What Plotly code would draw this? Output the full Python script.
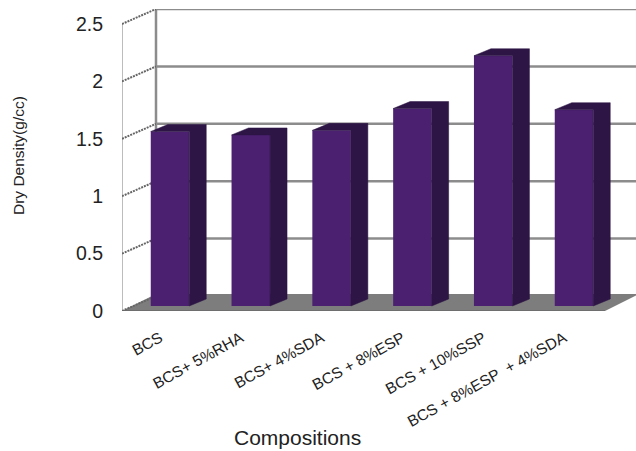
import plotly.graph_objects as go

# Chart content
categories = ["BCS", "BCS+ 5%RHA", "BCS+ 4%SDA", "BCS + 8%ESP", "BCS + 10%SSP", "BCS + 8%ESP  + 4%SDA"]
dry_density = [1.52, 1.49, 1.53, 1.72, 2.18, 1.71]
y_ticks = [0, 0.5, 1, 1.5, 2, 2.5]
y_tick_labels = ["0", "0.5", "1", "1.5", "2", "2.5"]

# Canvas and oblique-projection settings, in pixels
WIDTH, HEIGHT = 636, 451
LEFT, BOTTOM_PX, TOP_PX = 122, 311, 9
PX_PER_UNIT = 114.8
PX_PER_CAT = 80.8
FIRST_CAT_PX = 170
DEPTH_X, DEPTH_Y = 34, 15
BAR_SHIFT_Y = 5
BAR_DEPTH_X, BAR_DEPTH_Y = 17, 7
BAR_WIDTH_PX = 38.5
LABEL_SHIFT_PX = 10

x_min = (LEFT - FIRST_CAT_PX) / PX_PER_CAT
x_max = (WIDTH - FIRST_CAT_PX) / PX_PER_CAT
y_max = (BOTTOM_PX - TOP_PX) / PX_PER_UNIT
dx_wall, dy_wall = DEPTH_X / PX_PER_CAT, DEPTH_Y / PX_PER_UNIT
dx_bar, dy_bar = BAR_DEPTH_X / PX_PER_CAT, BAR_DEPTH_Y / PX_PER_UNIT
bar_base = BAR_SHIFT_Y / PX_PER_UNIT
half_bar = BAR_WIDTH_PX / PX_PER_CAT / 2
x_floor_right = x_min + 483 / PX_PER_CAT
floor_back = dy_wall + 2 / PX_PER_UNIT

FRONT = "#4b2070"
SIDE = "#2d1545"
GRID = "#8c8c8c"
FLOOR = "#7d7d7d"


def line(x0, y0, x1, y1, color=GRID, width=2.5, dash="solid"):
    return dict(type="line", layer="below", xref="x", yref="y", x0=x0, y0=y0, x1=x1, y1=y1,
                line=dict(color=color, width=width, dash=dash))


shapes = []
# Floor
shapes.append(dict(
    type="path", layer="below", xref="x", yref="y",
    path=f"M{x_min},0 L{x_floor_right},0 L{x_floor_right + dx_wall},{floor_back} L{x_min + dx_wall},{floor_back} Z",
    fillcolor=FLOOR, line=dict(width=0),
))
shapes.append(line(x_min, 0, x_floor_right, 0, color="#6e6e6e", width=2))
# Side wall edges
shapes.append(line(x_min, 0, x_min, y_ticks[-1], color="#a6a6a6", width=1.5))
shapes.append(line(x_min + dx_wall, dy_wall, x_min + dx_wall, y_ticks[-1] + dy_wall))
# Gridlines on the back wall and their diagonals across the side wall
for v in y_ticks:
    shapes.append(line(x_min, v, x_min + dx_wall, v + dy_wall, color="#666666", width=2, dash="2px,1px"))
    if v > 0:
        shapes.append(line(x_min + dx_wall, v + dy_wall, x_max, v + dy_wall))

fig = go.Figure()

# Front faces of the columns
fig.add_trace(go.Bar(
    x=list(range(len(categories))), y=dry_density, base=bar_base,
    width=2 * half_bar, marker=dict(color=FRONT, line=dict(width=0)), hoverinfo="skip",
))

# Side and top faces of each column, offset from the front face by the depth vector
for i, v in enumerate(dry_density):
    top = bar_base + v
    xs = [i + half_bar, i + half_bar + dx_bar, i + half_bar + dx_bar, i - half_bar + dx_bar, i - half_bar, i + half_bar, i + half_bar]
    ys = [bar_base, bar_base + dy_bar, top + dy_bar, top + dy_bar, top, top, bar_base]
    fig.add_trace(go.Scatter(
        x=xs, y=ys, mode="lines", fill="toself", fillcolor=SIDE,
        line=dict(width=0.5, color=SIDE), hoverinfo="skip",
    ))

font_name = "Liberation Sans, Arial, sans-serif"
annotations = [
    dict(text="Dry Density(g/cc)", xref="paper", yref="paper", x=(18 - LEFT) / (WIDTH - LEFT),
         y=(BOTTOM_PX - 156) / (BOTTOM_PX - TOP_PX),
         xanchor="center", yanchor="middle", textangle=-90, showarrow=False,
         font=dict(family=font_name, size=15.5, color="#222222")),
    dict(text="Compositions", xref="paper", yref="paper", x=(297 - LEFT) / (WIDTH - LEFT),
         y=-(437 - BOTTOM_PX) / (BOTTOM_PX - TOP_PX), xanchor="center", yanchor="middle",
         showarrow=False, font=dict(family=font_name, size=21, color="#222222")),
]

fig.update_layout(
    width=WIDTH, height=HEIGHT,
    margin=dict(l=LEFT, r=0, t=TOP_PX, b=HEIGHT - BOTTOM_PX, autoexpand=False),
    paper_bgcolor="white", plot_bgcolor="white",
    showlegend=False, shapes=shapes, annotations=annotations,
    xaxis=dict(
        range=[x_min, x_max], tickmode="array",
        tickvals=[i - LABEL_SHIFT_PX / PX_PER_CAT for i in range(len(categories))],
        ticktext=categories, tickangle=-29, showgrid=False, zeroline=False, showline=False,
        ticks="outside", ticklen=11, tickcolor="rgba(0,0,0,0)",
        tickfont=dict(family=font_name, size=15.5, color="#222222"),
    ),
    yaxis=dict(
        range=[0, y_max], tickmode="array", tickvals=y_ticks, ticktext=y_tick_labels,
        showgrid=False, zeroline=False, showline=False,
        ticks="outside", ticklen=14, tickcolor="rgba(0,0,0,0)",
        tickfont=dict(family=font_name, size=19.5, color="#222222"),
    ),
)

fig.write_html("out.html")
